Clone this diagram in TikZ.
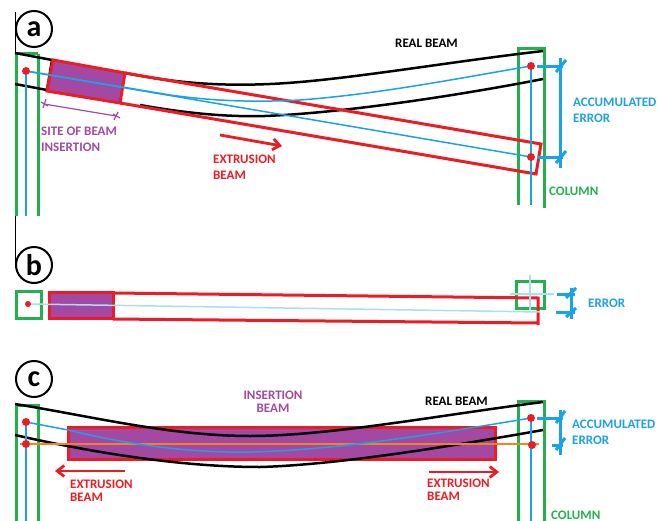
\documentclass[tikz,border=0pt]{standalone}
\usepackage{fontspec}
\setmainfont{Carlito}
\usetikzlibrary{calc,arrows.meta}
\definecolor{beamred}{HTML}{ED1C24}
\definecolor{colgreen}{HTML}{22B14C}
\definecolor{sitepurple}{HTML}{A349A4}
\definecolor{axisblue}{HTML}{1AA2E6}
\definecolor{paleblue}{HTML}{A8E0F0}
\definecolor{shiftorange}{HTML}{F58220}
\tikzset{
  panel/.style={draw=black,line width=2pt,circle,minimum size=36pt,inner sep=0pt,font=\fontsize{30}{30}\selectfont\bfseries},
  lab/.style={anchor=west,align=left,inner sep=0pt,font=\fontsize{13}{16}\selectfont\bfseries},
  labtight/.style={lab,font=\fontsize{13}{13}\selectfont\bfseries},
  realbeam/.style={black,line width=2.5pt},
  column/.style={colgreen,line width=3pt},
  extbeam/.style={beamred,line width=3pt},
  axis/.style={axisblue,line width=1.5pt},
  dim/.style={axisblue,line width=3pt},
  push/.style={beamred,line width=2.8pt,-{Straight Barb[length=7pt,width=11pt]}}
}
\begin{document}
\begin{tikzpicture}[x=1pt,y=-1pt]
\useasboundingbox (0,0) rectangle (668,521);
\fill[white] (0,0) rectangle (668,521);
% a
\node[panel] (pa) at (34,29) {a};
\draw[black,line width=0.8pt] (15,12) -- (15,268);
\coordinate (aleft) at (26,71);
\coordinate (aright) at (531,66);
\coordinate (atip) at (531,157);
\fill[sitepurple] (53,60) -- (125,73) -- (120,103) -- (47,91) -- cycle;
\draw[column] (16,54) -- (38,54);
\draw[column] (16,54) -- (16,216);
\draw[column] (38,54) -- (38,216);
\draw[column] (518,205) -- (518,49) -- (544,49) -- (544,208);
\draw[realbeam] (15,53) -- (52,60) -- (47,90) -- (15,84);
\draw[realbeam] (125,73) .. controls (180,84) and (225,86) .. (270,84) .. controls (340,81) and (440,63) .. (543,51);
\draw[realbeam] (140,105) .. controls (190,114) and (230,117) .. (265,116) .. controls (340,113) and (450,97) .. (543,79);
\draw[extbeam] (53,60) -- (125,73) -- (120,103) -- (47,91) -- cycle;
\draw[extbeam] (125,73) -- (541,144) -- (536,174) -- (120,103);
\draw[axis] (aleft) -- (atip);
\draw[axis] (aleft) -- (170,95) .. controls (220,102) and (260,102) .. (300,100) .. controls (380,94) and (460,78) .. (aright);
\draw[axis] (aleft) -- (26,216);
\draw[axis] (aright) -- (531,205);
\fill[beamred] (aleft) circle (4pt);
\fill[beamred] (aright) circle (4pt);
\fill[beamred] (atip) circle (4pt);
\draw[sitepurple,line width=1.2pt] (44,104) -- (116,116);
\draw[sitepurple,line width=1.2pt] (46,99) -- (43,108);
\draw[sitepurple,line width=1.2pt] (118,112) -- (114,120);
\draw[sitepurple,line width=1.2pt] (41,102) -- (48,106);
\draw[sitepurple,line width=1.2pt] (113,114) -- (120,118);
\draw[dim] (537,67) -- (563,67);
\draw[dim] (537,158) -- (563,158);
\draw[dim] (560,58) -- (560,168);
\draw[dim] (556,72) -- (566,60);
\draw[dim] (556,163) -- (566,151);
\draw[push] (220,135) -- (282,146);
\node[lab,text=sitepurple] (asite) at (41,139) {SITE OF BEAM\\INSERTION};
\node[lab,text=beamred] (aext) at (213,167) {EXTRUSION\\BEAM};
\node[lab] (areal) at (395,43) {REAL BEAM};
\node[lab,text=axisblue] (aerr) at (573,110) {ACCUMULATED\\ERROR};
\node[lab,text=colgreen] (acol) at (549,191) {COLUMN};
% b
\node[panel] (pb) at (34,265) {b};
\coordinate (bleft) at (28,304);
\coordinate (bright) at (540,312);
\fill[sitepurple] (49,292) rectangle (113,318);
\draw[column] (16,291) rectangle (41,318);
\draw[column] (516,281) rectangle (544,308);
\draw[extbeam] (49,292) rectangle (113,318);
\draw[extbeam] (113,293) -- (538,298) -- (538,325);
\draw[extbeam] (538,323) -- (113,319);
\draw[paleblue,line width=1.5pt] (bleft) -- (bright);
\draw[paleblue,line width=1.5pt] (530,275) -- (530,310);
\draw[paleblue,line width=1.5pt] (510,294) -- (554,294);
\fill[beamred] (bleft) circle (3pt);
\draw[dim] (557,294) -- (575,294);
\draw[dim] (556,312) -- (575,312);
\draw[dim] (571,288) -- (571,319);
\draw[dim] (566,298) -- (576,288);
\draw[dim] (566,317) -- (576,308);
\node[lab,text=axisblue] (berr) at (588,303) {ERROR};
% c
\node[panel] (pc) at (34,379) {c};
\coordinate (cleft) at (26,422);
\coordinate (cleftlow) at (26,444);
\coordinate (cright) at (531,418);
\coordinate (crightlow) at (532,445);
\draw[column] (16,521) -- (16,405) -- (38,405) -- (38,521);
\draw[column] (518,521) -- (518,401) -- (544,401) -- (544,521);
\fill[sitepurple] (68,427) rectangle (495,459);
\draw[extbeam] (68,427) rectangle (495,459);
\draw[realbeam] (15,404) .. controls (90,416) and (170,436) .. (250,436) .. controls (330,436) and (440,415) .. (543,402);
\draw[realbeam] (15,435) .. controls (90,452) and (180,467) .. (260,467) .. controls (330,465) and (430,450) .. (543,430);
\draw[shiftorange,line width=1.5pt] (20,444) -- (539,444);
\draw[axis] (cleft) -- (68,430) .. controls (130,445) and (190,453) .. (250,452) .. controls (340,450) and (440,433) .. (cright);
\draw[axis] (cleft) -- (26,521);
\draw[axis] (cright) -- (531,521);
\fill[beamred] (cleft) circle (4pt);
\fill[beamred] (cleftlow) circle (4pt);
\fill[beamred] (cright) circle (4pt);
\fill[beamred] (crightlow) circle (4pt);
\draw[dim] (537,418) -- (563,418);
\draw[dim] (552,445) -- (563,445);
\draw[dim] (560,410) -- (560,455);
\draw[dim] (556,423) -- (565,411);
\draw[dim] (556,450) -- (565,438);
\draw[push] (125,471) -- (55,471);
\draw[push] (429,472) -- (499,472);
\node[labtight,text=sitepurple,align=center,anchor=center] (cins) at (273,402) {INSERTION\\BEAM};
\node[labtight,text=beamred] (cextl) at (70,491) {EXTRUSION\\BEAM};
\node[labtight,text=beamred] (cextr) at (427,490) {EXTRUSION\\BEAM};
\node[lab] (creal) at (425,401) {REAL BEAM};
\node[lab,text=axisblue] (cerr) at (572,432) {ACCUMULATED\\ERROR};
\node[lab,text=colgreen] (ccol) at (551,515) {COLUMN};
\end{tikzpicture}
\end{document}
